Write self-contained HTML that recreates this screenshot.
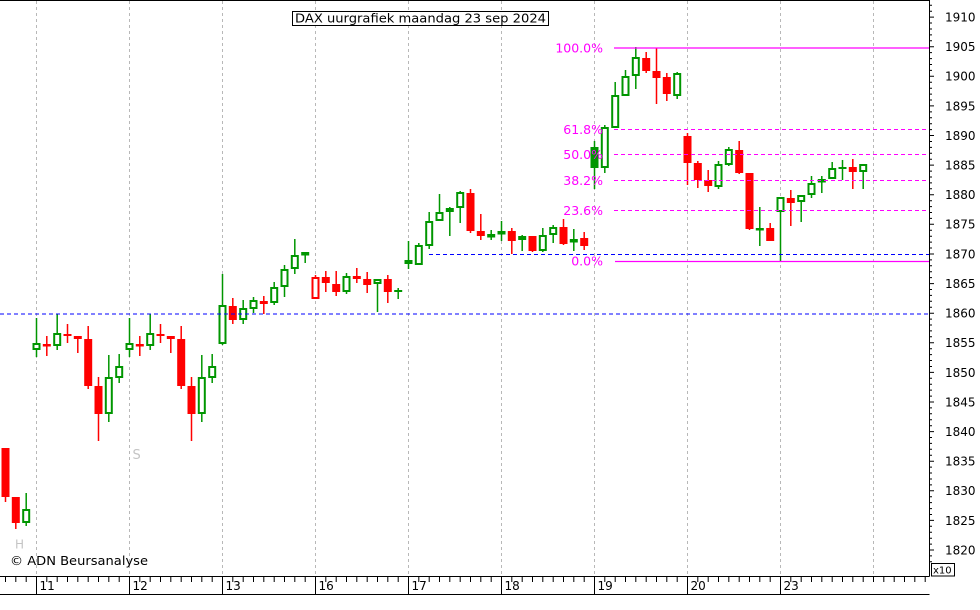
<!DOCTYPE html>
<html><head><meta charset="utf-8"><style>
html,body{margin:0;padding:0;background:#fff;}
svg{display:block;}
text{font-family:"DejaVu Sans","Liberation Sans",sans-serif;}
.r{fill:#ff0000}
.R{fill:#fff;stroke:#ff0000;stroke-width:2}
.g{fill:#fff;stroke:#009600;stroke-width:2}
.G{fill:#009600}
</style></head><body>
<svg width="980" height="610" viewBox="0 0 980 610" xmlns="http://www.w3.org/2000/svg">
<rect x="0" y="0" width="980" height="610" fill="#fff"/>
<path d="M36.5 1V576M129.5 1V576M222.5 1V576M315.5 1V576M408.5 1V576M501.5 1V576M594.5 1V576M687.5 1V576M780.5 1V576M873.5 1V576" stroke="#b8b8b8" stroke-width="1" stroke-dasharray="3,3" fill="none"/>
<path stroke="#ff0000" stroke-width="1.5" fill="none" d="M5.5 448V502M15.8 497V529M46.8 336V356M67.5 324V343M77.8 336V353M88.2 326V389M98.5 377V441M139.8 336V356M160.5 324V343M170.8 336V353M181.2 326V389M191.5 377V441M232.8 298V324M263.8 296V314M315.5 275V299M325.8 271V292M336.2 271V296M356.8 268V283M367.2 272V293M387.8 275V303M470.5 189V233M480.8 214V240M511.8 228V254M532.5 236V252M563.5 219V245M584.2 232V250M646.2 52V73M656.5 48V104M666.8 73V101M687.5 133V185M697.8 161V188M708.2 170V192M739.2 141V174M749.5 173V230M770.2 223V241M790.8 190V226M852.8 159V189"/>
<path stroke="#009600" stroke-width="1.5" fill="none" d="M26.2 493V526M36.5 318V357M57.2 314V350M108.8 355V422M119.2 354V383M129.5 318V357M150.2 314V350M201.8 355V422M212.2 354V383M222.5 274V345M243.2 300V324M253.5 297V313M274.2 282V305M284.5 265V297M294.8 239V274M305.2 252V263M346.5 273V294M377.5 279V312M398.2 288V299M408.5 241V269M418.8 243V265M429.2 212V249M439.5 194V221M449.8 207V236M460.2 191V223M491.2 230V240M501.5 221V241M522.2 235V251M542.8 228V252M553.2 225V243M573.8 229V251M594.5 141V189M604.8 125V173M615.2 82V128M625.5 70V96M635.8 47V89M677.2 72V99M718.5 161V189M728.8 147V166M759.8 207V246M780.5 197V261M801.2 195V222M811.5 176V198M821.8 176V193M832.2 162V179M842.5 160V180M863.2 164V189"/>
<rect class="r" x="1.5" y="448" width="8" height="49"/>
<rect class="r" x="11.8" y="497" width="8" height="26"/>
<rect class="r" x="42.8" y="344" width="8" height="2.5"/>
<rect class="r" x="63.5" y="334" width="8" height="2"/>
<rect class="r" x="73.8" y="336" width="8" height="3"/>
<rect class="r" x="84.2" y="339" width="8" height="47"/>
<rect class="r" x="94.5" y="386" width="8" height="28"/>
<rect class="r" x="135.8" y="344" width="8" height="2.5"/>
<rect class="r" x="156.5" y="334" width="8" height="2"/>
<rect class="r" x="166.8" y="336" width="8" height="3"/>
<rect class="r" x="177.2" y="339" width="8" height="47"/>
<rect class="r" x="187.5" y="386" width="8" height="28"/>
<rect class="r" x="228.8" y="306" width="8" height="14"/>
<rect class="r" x="259.8" y="301" width="8" height="3"/>
<rect class="R" x="312.5" y="278" width="6" height="20"/>
<rect class="r" x="321.8" y="277" width="8" height="6"/>
<rect class="r" x="332.2" y="284" width="8" height="8"/>
<rect class="r" x="352.8" y="276" width="8" height="3"/>
<rect class="r" x="363.2" y="279" width="8" height="6"/>
<rect class="r" x="383.8" y="279" width="8" height="13"/>
<rect class="r" x="466.5" y="193" width="8" height="38"/>
<rect class="r" x="476.8" y="231" width="8" height="5"/>
<rect class="r" x="507.8" y="231" width="8" height="10"/>
<rect class="r" x="528.5" y="236" width="8" height="15"/>
<rect class="r" x="559.5" y="227" width="8" height="17"/>
<rect class="r" x="580.2" y="238" width="8" height="8"/>
<rect class="r" x="642.2" y="58" width="8" height="13"/>
<rect class="r" x="652.5" y="71" width="8" height="7"/>
<rect class="r" x="662.8" y="77" width="8" height="17"/>
<rect class="r" x="683.5" y="136" width="8" height="27"/>
<rect class="r" x="693.8" y="163" width="8" height="17"/>
<rect class="r" x="704.2" y="180" width="8" height="6"/>
<rect class="r" x="735.2" y="150" width="8" height="23"/>
<rect class="r" x="745.5" y="173" width="8" height="56"/>
<rect class="r" x="766.2" y="228" width="8" height="13"/>
<rect class="r" x="786.8" y="198" width="8" height="5"/>
<rect class="r" x="848.8" y="167" width="8" height="5"/>
<rect class="g" x="23.2" y="510" width="6" height="12"/>
<rect class="g" x="33.5" y="344" width="6" height="5"/>
<rect class="g" x="54.2" y="334" width="6" height="11"/>
<rect class="g" x="105.8" y="378" width="6" height="35"/>
<rect class="g" x="116.2" y="367" width="6" height="10"/>
<rect class="g" x="126.5" y="344" width="6" height="5"/>
<rect class="g" x="147.2" y="334" width="6" height="11"/>
<rect class="g" x="198.8" y="378" width="6" height="35"/>
<rect class="g" x="209.2" y="367" width="6" height="10"/>
<rect class="g" x="219.5" y="306" width="6" height="37"/>
<rect class="g" x="240.2" y="309" width="6" height="10"/>
<rect class="g" x="250.5" y="301" width="6" height="7"/>
<rect class="g" x="271.2" y="288" width="6" height="14"/>
<rect class="g" x="281.5" y="270" width="6" height="16"/>
<rect class="g" x="291.8" y="256" width="6" height="12"/>
<rect class="g" x="302.2" y="253" width="6" height="1.5"/>
<rect class="g" x="343.5" y="277" width="6" height="14"/>
<rect class="g" x="374.5" y="280" width="6" height="3"/>
<rect class="g" x="415.8" y="246" width="6" height="18"/>
<rect class="g" x="426.2" y="222" width="6" height="23"/>
<rect class="g" x="436.5" y="213" width="6" height="7"/>
<rect class="g" x="446.8" y="209" width="6" height="2"/>
<rect class="g" x="457.2" y="193" width="6" height="14"/>
<rect class="g" x="488.2" y="235" width="6" height="1.5"/>
<rect class="g" x="498.5" y="232" width="6" height="1.5"/>
<rect class="g" x="519.2" y="237" width="6" height="2"/>
<rect class="g" x="539.8" y="236" width="6" height="14"/>
<rect class="g" x="550.2" y="228" width="6" height="6"/>
<rect class="g" x="570.8" y="240" width="6" height="1.5"/>
<rect class="g" x="601.8" y="128" width="6" height="39"/>
<rect class="g" x="612.2" y="96" width="6" height="31"/>
<rect class="g" x="622.5" y="77" width="6" height="18"/>
<rect class="g" x="632.8" y="58" width="6" height="17"/>
<rect class="g" x="674.2" y="74" width="6" height="21"/>
<rect class="g" x="715.5" y="165" width="6" height="21"/>
<rect class="g" x="725.8" y="150" width="6" height="14"/>
<rect class="g" x="777.5" y="198" width="6" height="13"/>
<rect class="g" x="798.2" y="196" width="6" height="5"/>
<rect class="g" x="808.5" y="184" width="6" height="10"/>
<rect class="g" x="818.8" y="180" width="6" height="1.5"/>
<rect class="g" x="829.2" y="169" width="6" height="9"/>
<rect class="g" x="860.2" y="165" width="6" height="6"/>
<rect class="G" x="394.2" y="290" width="8" height="2"/>
<rect class="G" x="404.5" y="260" width="8" height="4"/>
<rect class="G" x="590.5" y="147" width="8" height="21"/>
<rect class="G" x="755.8" y="228" width="8" height="2.5"/>
<rect class="G" x="838.5" y="167" width="8" height="2"/>
<path d="M0 314H929" stroke="#0000ff" stroke-width="1" stroke-dasharray="4,3"/>
<path d="M429 254.5H929" stroke="#0000ff" stroke-width="1" stroke-dasharray="4,3"/>
<path d="M614 48H929" stroke="#ff00ff" stroke-width="1.2"/>
<path d="M614 129.5H929M614 154.5H929M614 180.5H929M614 210.5H929" stroke="#ff00ff" stroke-width="1" stroke-dasharray="4,3"/>
<path d="M615 261.5H929" stroke="#ff00ff" stroke-width="1.2"/>
<g fill="#ff00ff" font-size="12.5" text-anchor="end">
<text x="603" y="52.5">100.0%</text>
<text x="603" y="134">61.8%</text>
<text x="603" y="159">50.0%</text>
<text x="603" y="185">38.2%</text>
<text x="603" y="215">23.6%</text>
<text x="603" y="265.5">0.0%</text>
</g>
<rect x="292.5" y="11.5" width="256" height="14" fill="#fff" stroke="#000" stroke-width="1"/>
<text x="295" y="22.5" font-size="12" textLength="251" lengthAdjust="spacingAndGlyphs">DAX uurgrafiek maandag 23 sep 2024</text>
<text x="132.5" y="459" font-size="13" fill="#c4c4c4">S</text>
<text x="15" y="548.5" font-size="12" fill="#c4c4c4">H</text>
<text x="10" y="565" font-size="12" textLength="138" lengthAdjust="spacingAndGlyphs">© ADN Beursanalyse</text>
<path d="M0 0.5H929.5M929.5 0V576.5M0 576.5H929.5M0 594.5H929.5" stroke="#000" stroke-width="1" fill="none"/>
<path stroke="#000" stroke-width="1" fill="none" d="M929 17.1h5M929 46.7h5M929 76.3h5M929 105.9h5M929 135.5h5M929 165.1h5M929 194.7h5M929 224.3h5M929 254h5M929 283.6h5M929 313.2h5M929 342.8h5M929 372.4h5M929 402h5M929 431.6h5M929 461.2h5M929 490.8h5M929 520.4h5M929 550h5M929 5.3h3M929 11.2h3M929 23h3M929 29h3M929 34.9h3M929 40.8h3M929 52.6h3M929 58.6h3M929 64.5h3M929 70.4h3M929 82.2h3M929 88.2h3M929 94.1h3M929 100h3M929 111.9h3M929 117.8h3M929 123.7h3M929 129.6h3M929 141.5h3M929 147.4h3M929 153.3h3M929 159.2h3M929 171.1h3M929 177h3M929 182.9h3M929 188.8h3M929 200.7h3M929 206.6h3M929 212.5h3M929 218.4h3M929 230.3h3M929 236.2h3M929 242.1h3M929 248h3M929 259.9h3M929 265.8h3M929 271.7h3M929 277.6h3M929 289.5h3M929 295.4h3M929 301.3h3M929 307.2h3M929 319.1h3M929 325h3M929 330.9h3M929 336.8h3M929 348.7h3M929 354.6h3M929 360.5h3M929 366.5h3M929 378.3h3M929 384.2h3M929 390.1h3M929 396.1h3M929 407.9h3M929 413.8h3M929 419.7h3M929 425.7h3M929 437.5h3M929 443.4h3M929 449.3h3M929 455.3h3M929 467.1h3M929 473h3M929 479h3M929 484.9h3M929 496.7h3M929 502.6h3M929 508.6h3M929 514.5h3M929 526.3h3M929 532.2h3M929 538.2h3M929 544.1h3M929 555.9h3M929 561.8h3"/>
<g font-size="12" fill="#000">
<text x="945" y="21.5">1910</text>
<text x="945" y="51.1">1905</text>
<text x="945" y="80.7">1900</text>
<text x="945" y="110.3">1895</text>
<text x="945" y="139.9">1890</text>
<text x="945" y="169.5">1885</text>
<text x="945" y="199.1">1880</text>
<text x="945" y="228.7">1875</text>
<text x="945" y="258.4">1870</text>
<text x="945" y="288">1865</text>
<text x="945" y="317.6">1860</text>
<text x="945" y="347.2">1855</text>
<text x="945" y="376.8">1850</text>
<text x="945" y="406.4">1845</text>
<text x="945" y="436">1840</text>
<text x="945" y="465.6">1835</text>
<text x="945" y="495.2">1830</text>
<text x="945" y="524.8">1825</text>
<text x="945" y="554.4">1820</text>
</g>
<rect x="931.5" y="563.5" width="23" height="12.5" fill="#fff" stroke="#000" stroke-width="1"/>
<text x="933" y="573.5" font-size="10">x10</text>
<path stroke="#000" stroke-width="1" fill="none" d="M36.5 576V594M129.5 576V594M222.5 576V594M315.5 576V594M408.5 576V594M501.5 576V594M594.5 576V594M687.5 576V594M780.5 576V594M873.5 576V582M5.5 576v6M15.8 576v6M26.2 576v6M46.8 576v6M57.2 576v6M67.5 576v6M77.8 576v6M88.2 576v6M98.5 576v6M108.8 576v6M119.2 576v6M139.8 576v6M150.2 576v6M160.5 576v6M170.8 576v6M181.2 576v6M191.5 576v6M201.8 576v6M212.2 576v6M232.8 576v6M243.2 576v6M253.5 576v6M263.8 576v6M274.2 576v6M284.5 576v6M294.8 576v6M305.2 576v6M325.8 576v6M336.2 576v6M346.5 576v6M356.8 576v6M367.2 576v6M377.5 576v6M387.8 576v6M398.2 576v6M418.8 576v6M429.2 576v6M439.5 576v6M449.8 576v6M460.2 576v6M470.5 576v6M480.8 576v6M491.2 576v6M511.8 576v6M522.2 576v6M532.5 576v6M542.8 576v6M553.2 576v6M563.5 576v6M573.8 576v6M584.2 576v6M604.8 576v6M615.2 576v6M625.5 576v6M635.8 576v6M646.2 576v6M656.5 576v6M666.8 576v6M677.2 576v6M697.8 576v6M708.2 576v6M718.5 576v6M728.8 576v6M739.2 576v6M749.5 576v6M759.8 576v6M770.2 576v6M790.8 576v6M801.2 576v6M811.5 576v6M821.8 576v6M832.2 576v6M842.5 576v6M852.8 576v6M863.2 576v6M883.8 576v6M894.2 576v6M904.5 576v6M914.8 576v6M925.2 576v6"/>
<g font-size="12" fill="#000">
<text x="39.5" y="590">11</text>
<text x="132.5" y="590">12</text>
<text x="225.5" y="590">13</text>
<text x="318.5" y="590">16</text>
<text x="411.5" y="590">17</text>
<text x="504.5" y="590">18</text>
<text x="597.5" y="590">19</text>
<text x="690.5" y="590">20</text>
<text x="783.5" y="590">23</text>
</g>
</svg>
</body></html>
